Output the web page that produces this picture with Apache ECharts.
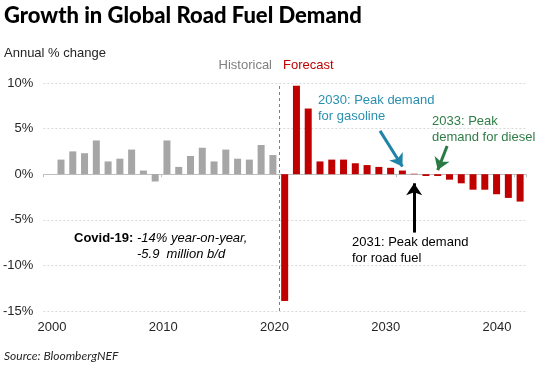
<!DOCTYPE html>
<html>
<head>
<meta charset="utf-8">
<script src="https://cdn.jsdelivr.net/npm/echarts@6/dist/echarts.min.js"></script>
<style>
html,body{margin:0;padding:0;background:#fff;}
#c{width:550px;height:369px;}
</style>
</head>
<body>
<div id="c"></div>
<script>
// ---- data ----
const histYears = [2001,2002,2003,2004,2005,2006,2007,2008,2009,2010,2011,2012,2013,2014,2015,2016,2017,2018,2019];
const histValues = [1.6,2.5,2.3,3.7,1.4,1.7,2.7,0.4,-0.8,3.7,0.8,2.0,2.9,1.4,2.7,1.7,1.6,3.2,2.1];
const fcstYears = [2020,2021,2022,2023,2024,2025,2026,2027,2028,2029,2030,2031,2032,2033,2034,2035,2036,2037,2038,2039,2040];
const fcstValues = [-13.9,9.7,7.2,1.4,1.6,1.6,1.2,1.0,0.8,0.7,0.4,0.05,-0.2,-0.2,-0.6,-1.0,-1.7,-1.7,-2.2,-2.6,-3.0];
const yTicks = [-15,-10,-5,0,5,10];
const xTickYears = [2000,2010,2020,2030,2040];
// arrows: [tail, tip] in data coordinates
const gasolineArrow = [[2028.1,4.75],[2030.0,0.85]];
const dieselArrow = [[2033.8,3.1],[2033.0,0.45]];
const roadArrow = [[2031.0,-6.4],[2031.0,-1.0]];

const chart = echarts.init(document.getElementById('c'), null, {renderer:'canvas'});
const sans = '"Liberation Sans", Arial, sans-serif';
const txt = '#262626';

function arrow(pts, color, w){
  return [{coord: pts[0], symbol:'none', lineStyle:{color:color,width:w,type:'solid'}},
          {coord: pts[1], symbol:'arrow', symbolSize:[12,12]}];
}

chart.setOption({
  animation:false,
  backgroundColor:'#fff',
  grid:[
    {left:43, right:24, top:83, bottom:58},
    {left:52, right:53, top:311, height:1}
  ],
  xAxis:[
    {type:'value', gridIndex:0, min:1999.5, max:2040.5, interval:10,
     axisLabel:{show:false}, splitLine:{show:false},
     axisLine:{onZero:true, lineStyle:{color:'#bfbfbf', width:1}},
     axisTick:{show:true, length:3, lineStyle:{color:'#bfbfbf'}}},
    {type:'value', gridIndex:1, min:xTickYears[0], max:xTickYears[xTickYears.length-1], interval:10,
     axisLine:{show:false}, axisTick:{show:false}, splitLine:{show:false},
     axisLabel:{fontFamily:sans, fontSize:13, color:txt, margin:9, formatter:(v)=>String(v)}}
  ],
  yAxis:[
    {type:'value', gridIndex:0, min:yTicks[0], max:yTicks[yTicks.length-1], interval:5,
     axisLine:{show:false}, axisTick:{show:false},
     axisLabel:{formatter:'{value}%', fontFamily:sans, fontSize:13, color:txt, margin:10},
     splitLine:{lineStyle:{color:'#d9d9d9', type:[2,2], width:1}}},
    {type:'value', gridIndex:1, show:false}
  ],
  series:[
    {type:'bar', name:'Historical', xAxisIndex:0, yAxisIndex:0, stack:'all', barWidth:7,
     itemStyle:{color:'#a6a6a6'},
     data: histYears.map((y,i)=>[y, histValues[i]]),
     markLine:{silent:true, symbol:'none', label:{show:false},
       lineStyle:{color:'#7f7f7f', type:[3,3], width:1},
       data:[{xAxis:2019.5}]}},
    {type:'bar', name:'Forecast', xAxisIndex:0, yAxisIndex:0, stack:'all', barWidth:7,
     itemStyle:{color:'#c00000'},
     data: fcstYears.map((y,i)=>[y, fcstValues[i]]),
     markLine:{silent:true, label:{show:false}, symbol:['none','arrow'], symbolSize:12,
       data:[arrow(gasolineArrow,'#1f84a8',3), arrow(dieselArrow,'#2a7a45',3), arrow(roadArrow,'#000000',3)]}}
  ],
  graphic:[
    {type:'text', left:4, top:5, style:{text:'Growth in Global Road Fuel Demand', font:'900 22px Lato', fill:'#000'}},
    {type:'text', left:4, top:47, style:{text:'Annual % change', font:'13px '+sans, fill:txt}},
    {type:'text', right:550-272, top:59, style:{text:'Historical', font:'13px '+sans, fill:'#808080'}},
    {type:'text', left:283, top:59, style:{text:'Forecast', font:'13px '+sans, fill:'#c00000'}},
    {type:'text', left:318, top:92, style:{text:'2030: Peak demand\nfor gasoline', font:'13px '+sans, fill:'#2a8fb0', lineHeight:16.5}},
    {type:'text', left:432, top:113, style:{text:'2033: Peak\ndemand for diesel', font:'13px '+sans, fill:'#2f7d46', lineHeight:16.5}},
    {type:'text', left:352, top:234, style:{text:'2031: Peak demand\nfor road fuel', font:'13px '+sans, fill:'#000', lineHeight:16}},
    {type:'text', left:74, top:230, style:{text:'Covid-19:', font:'bold 13px '+sans, fill:'#000', lineHeight:16}},
    {type:'text', left:137, top:230, style:{text:'-14% year-on-year,\n-5.9  million b/d', font:'italic 13px '+sans, fill:'#000', lineHeight:16}},
    {type:'text', left:4, top:350, style:{text:'Source: BloombergNEF', font:'italic 12px Lato', fill:txt}}
  ]
});
</script>
</body>
</html>
